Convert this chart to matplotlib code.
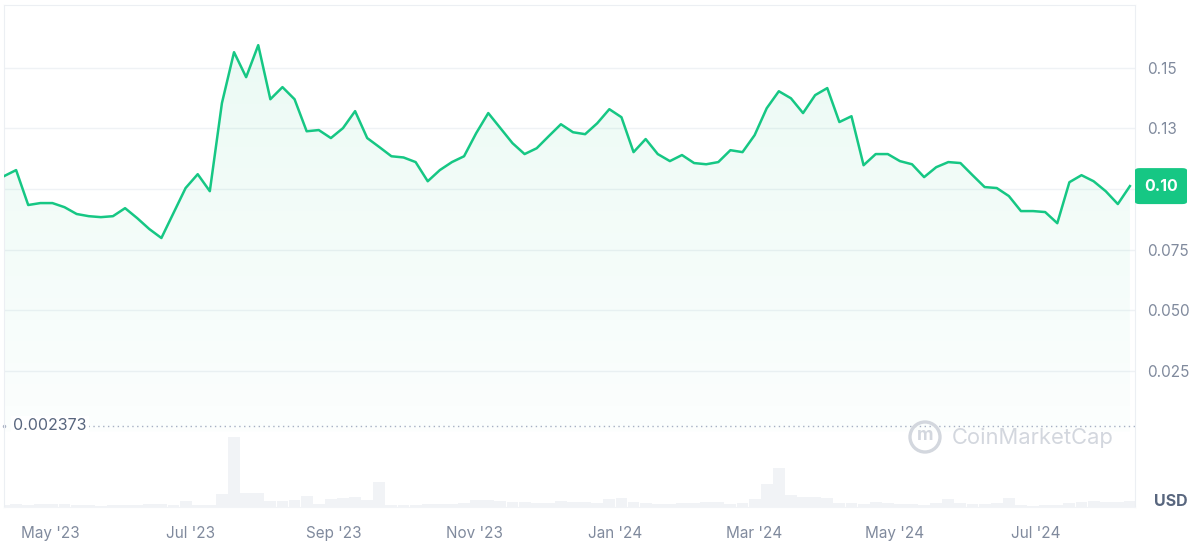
import numpy as np
import pandas as pd
import matplotlib
matplotlib.use("Agg")
import matplotlib.pyplot as plt
import matplotlib.dates as mdates
from matplotlib.patches import FancyBboxPatch, Ellipse
from matplotlib.colors import LinearSegmentedColormap

plt.rcParams['font.family'] = ['Inter', 'DejaVu Sans']

# ---------------- data ----------------
start_date = "2023-04-11"
end_date = "2024-08-11"
price = [
    0.1053, 0.1078, 0.0934, 0.0942, 0.0942, 0.0925, 0.0897, 0.0888, 0.0884, 0.0888,
    0.0921, 0.0880, 0.0835, 0.0798, 0.0901, 0.1004, 0.1061, 0.0991, 0.1354, 0.1564,
    0.1461, 0.1593, 0.1370, 0.1420, 0.1370, 0.1238, 0.1243, 0.1210, 0.1251, 0.1321,
    0.1210, 0.1173, 0.1135, 0.1130, 0.1111, 0.1032, 0.1078, 0.1111, 0.1135, 0.1230,
    0.1313, 0.1251, 0.1189, 0.1144, 0.1168, 0.1218, 0.1267, 0.1234, 0.1226, 0.1271,
    0.1329, 0.1296, 0.1152, 0.1206, 0.1144, 0.1115, 0.1140, 0.1107, 0.1102, 0.1111,
    0.1160, 0.1152, 0.1222, 0.1333, 0.1403, 0.1374, 0.1313, 0.1387, 0.1416, 0.1276,
    0.1300, 0.1098, 0.1144, 0.1144, 0.1115, 0.1102, 0.1049, 0.1090, 0.1111, 0.1107,
    0.1057, 0.1008, 0.1004, 0.0971, 0.0909, 0.0909, 0.0905, 0.0859, 0.1028, 0.1057,
    0.1032, 0.0991, 0.0938, 0.1012,
]
volume = [
    2, 3, 2, 3, 3, 3, 2, 2, 1, 2,
    2, 2, 3, 3, 2, 6, 2, 2, 13, 70,
    14, 14, 6, 6, 7, 11, 3, 8, 9, 10,
    7, 25, 2, 2, 2, 3, 3, 3, 4, 7,
    7, 6, 5, 5, 4, 4, 6, 5, 5, 4,
    8, 9, 5, 4, 3, 3, 4, 4, 5, 5,
    3, 4, 8, 23, 39, 12, 10, 10, 9, 4,
    4, 3, 5, 4, 3, 3, 2, 4, 8, 4,
    3, 3, 4, 9, 2, 1, 2, 2, 4, 5,
    6, 5, 5, 6,
]
ytick_values = [0.025, 0.05, 0.075, 0.10, 0.125, 0.15]
# the 0.10 label sits under the current-price badge
ytick_labels = ["0.025", "0.050", "0.075", "", "0.13", "0.15"]
low_value = 0.002373
low_label = "0.002373"
current_label = "0.10"

dates = pd.date_range(start_date, end_date, periods=len(price))
step_days = (dates[1] - dates[0]).total_seconds() / 86400

# ---------------- figure ----------------
W, H = 1200, 549
fig = plt.figure(figsize=(W / 100, H / 100), dpi=100)
fig.patch.set_facecolor("white")

left_px, right_px, top_px, bottom_px = 4, 1135, 5, 507
rect = [left_px / W, 1 - bottom_px / H, (right_px - left_px) / W, (bottom_px - top_px) / H]

GREEN = "#16c784"
GRID = "#eff2f5"
TXT = "#808a9d"
DARK = "#58667e"

# volume axes (behind)
axv = fig.add_axes(rect, zorder=0)
axv.bar(dates, volume, width=step_days * 0.98, color="#f1f3f6", align="center")
axv.set_ylim(0, 502)
axv.axis("off")

# price axes
ax = fig.add_axes(rect, zorder=1)
ax.patch.set_alpha(0)
xmin = dates[0]
xmax = dates[-1] + pd.Timedelta(days=2.2)
ylo, yhi = -0.03108, 0.17585

for v in ytick_values:
    ax.axhline(v, color=GRID, lw=1.0, zorder=0)

# gradient fill under line
xnum = mdates.date2num(dates)
poly = ax.fill_between(dates, price, 0, color="none", lw=0)
cmap = LinearSegmentedColormap.from_list(
    "g", [(0.086, 0.78, 0.52, 0.015), (0.086, 0.78, 0.52, 0.085)])
grad = np.linspace(0, 1, 256).reshape(-1, 1)
img = ax.imshow(grad, extent=[xnum[0], xnum[-1], 0, max(price)], origin="lower",
                aspect="auto", cmap=cmap, zorder=1)
img.set_clip_path(poly.get_paths()[0], transform=ax.transData)
ax.set_xlim(xmin, xmax)
axv.set_xlim(xmin, xmax)
ax.set_ylim(ylo, yhi)

ax.plot(dates, price, color=GREEN, lw=1.8, zorder=3, solid_joinstyle="round")

# dotted low line
ax.axhline(low_value, xmin=0.074, color="#a6b0c3", lw=1.0, ls=(0, (1, 2.5)), zorder=2)
ax.text(0.008, low_value, low_label, transform=ax.get_yaxis_transform(),
        ha="left", va="center", fontsize=11.5, color=DARK, zorder=4,
        bbox=dict(boxstyle="square,pad=0.15", fc="white", ec="none"))
ax.plot([0.0], [low_value], marker="o", ms=1.5, color="#a6b0c3",
        transform=ax.get_yaxis_transform(), clip_on=False)

# axes styling
for side, col in (("top", "#eceff3"), ("left", "#eceff3"),
                  ("right", "#eceff3"), ("bottom", "#f2f4f7")):
    ax.spines[side].set_color(col)

ax.yaxis.tick_right()
ax.set_yticks(ytick_values)
ax.set_yticklabels(ytick_labels)
ax.tick_params(axis="y", length=0, pad=9, labelsize=11, labelcolor=TXT)

ax.xaxis.set_major_locator(mdates.MonthLocator(bymonth=[1, 3, 5, 7, 9, 11]))
ax.xaxis.set_major_formatter(mdates.DateFormatter("%b '%y"))
ax.tick_params(axis="x", length=0, pad=14, labelsize=11, labelcolor=TXT)

# current price badge
last = price[-1]
yb = ax.transData.transform((0, last))[1]
bx0 = 1135 / W
by = yb / H
badge = FancyBboxPatch((bx0, by - 18 / H), 52 / W, 36 / H,
                       boxstyle="round,pad=0,rounding_size=0.004",
                       transform=fig.transFigure, fc=GREEN, ec="none", zorder=5)
fig.patches.append(badge)
fig.text(bx0 + 26 / W, by, current_label, ha="center", va="center",
         fontsize=11.5, fontweight="bold", color="white", zorder=6)

# USD label
fig.text(1171 / W, 1 - 502 / H, "USD", ha="center", va="center",
         fontsize=11.5, fontweight="bold", color=DARK)

# watermark
wm_color = "#d3d7de"
circ = Ellipse((925 / W, 1 - 437 / H), 30 / W, 30 / H, transform=fig.transFigure,
               fill=False, ec=wm_color, lw=2.4)
fig.patches.append(circ)
fig.text(925 / W, 1 - 436 / H, "m", ha="center", va="center", fontsize=13,
         color=wm_color, fontweight="bold")
fig.text(952 / W, 1 - 438 / H, "CoinMarketCap", ha="left", va="center",
         fontsize=15.8, color=wm_color)

fig.savefig("out.png", dpi=100, facecolor="white")
